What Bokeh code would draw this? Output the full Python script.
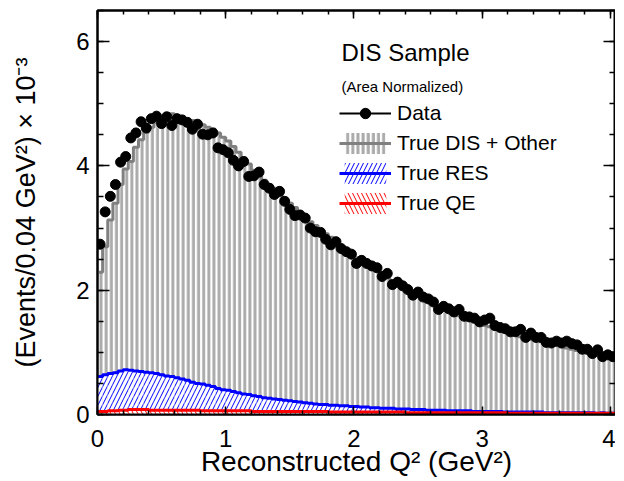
import numpy as np
from bokeh.plotting import figure
from bokeh.models import (Range1d, LinearAxis, SingleIntervalTicker, Legend,
                          LegendItem, Label, CustomJSTickFormatter)
from bokeh.embed import file_html
from bokeh.resources import INLINE

# ---------------- data (values in units of 1e-3 per 0.04 GeV^2 bin) ----------------
BIN_WIDTH = 0.04
X_MAX = 4.04
Y_MAX = 6.5

data_vals = [2.74, 3.26, 3.51, 3.70, 4.06, 4.15, 4.45, 4.53, 4.71, 4.61,
             4.76, 4.80, 4.68, 4.79, 4.65, 4.76, 4.74, 4.70, 4.59, 4.67,
             4.51, 4.50, 4.53, 4.29, 4.26, 4.21, 4.09, 4.00, 4.07, 3.83,
             3.84, 3.90, 3.70, 3.64, 3.54, 3.59, 3.43, 3.30, 3.20, 3.21,
             3.16, 3.00, 2.94, 2.93, 2.82, 2.73, 2.78, 2.67, 2.62, 2.58,
             2.43, 2.48, 2.43, 2.39, 2.36, 2.22, 2.27, 2.09, 2.13, 2.07,
             2.01, 1.92, 1.97, 1.89, 1.86, 1.81, 1.69, 1.74, 1.70, 1.65,
             1.69, 1.58, 1.57, 1.55, 1.49, 1.52, 1.55, 1.43, 1.40, 1.38,
             1.33, 1.33, 1.37, 1.24, 1.31, 1.24, 1.24, 1.16, 1.15, 1.18,
             1.15, 1.18, 1.14, 1.12, 1.05, 1.05, 0.98, 1.04, 0.93, 0.96,
             0.93]

mc_total = [2.29, 2.70, 3.13, 3.40, 3.70, 3.95, 4.07, 4.30, 4.42, 4.54,
            4.62, 4.70, 4.77, 4.82, 4.84, 4.80, 4.78, 4.76, 4.73, 4.70,
            4.66, 4.62, 4.59, 4.53, 4.46, 4.40, 4.31, 4.22, 4.13, 4.03,
            3.93, 3.84, 3.77, 3.70, 3.64, 3.57, 3.48, 3.40, 3.33, 3.25,
            3.17, 3.10, 3.04, 2.97, 2.91, 2.85, 2.79, 2.72, 2.66, 2.60,
            2.52, 2.47, 2.42, 2.37, 2.31, 2.25, 2.20, 2.14, 2.09, 2.04,
            1.99, 1.94, 1.90, 1.86, 1.82, 1.77, 1.73, 1.69, 1.66, 1.62,
            1.59, 1.55, 1.52, 1.49, 1.46, 1.43, 1.41, 1.38, 1.35, 1.33,
            1.30, 1.28, 1.25, 1.23, 1.21, 1.19, 1.17, 1.15, 1.13, 1.11,
            1.09, 1.07, 1.05, 1.03, 1.01, 0.99, 0.97, 0.95, 0.93, 0.92,
            0.90]

res_vals = [0.61, 0.64, 0.66, 0.67, 0.70, 0.72, 0.71, 0.70, 0.69, 0.68,
            0.67, 0.66, 0.64, 0.62, 0.61, 0.59, 0.57, 0.55, 0.52, 0.50,
            0.49, 0.47, 0.45, 0.42, 0.40, 0.39, 0.37, 0.35, 0.33, 0.32,
            0.30, 0.29, 0.27, 0.26, 0.25, 0.24, 0.23, 0.22, 0.21, 0.20,
            0.19, 0.18, 0.17, 0.16, 0.16, 0.15, 0.15, 0.14, 0.14, 0.13,
            0.13, 0.12, 0.12, 0.11, 0.11, 0.10, 0.10, 0.10, 0.09, 0.09,
            0.09, 0.08, 0.08, 0.08, 0.07, 0.07, 0.07, 0.07, 0.06, 0.06,
            0.06, 0.06, 0.06, 0.05, 0.05, 0.05, 0.05, 0.05, 0.05, 0.04,
            0.04, 0.04, 0.04, 0.04, 0.04, 0.04, 0.04, 0.03, 0.03, 0.03,
            0.03, 0.03, 0.03, 0.03, 0.03, 0.03, 0.03, 0.02, 0.03, 0.02,
            0.02]

qe_vals = [0.05, 0.05, 0.06, 0.06, 0.07, 0.07, 0.08, 0.08, 0.08, 0.08,
           0.07, 0.07, 0.07, 0.07, 0.07, 0.07, 0.07, 0.07, 0.07, 0.07,
           0.06, 0.06, 0.06, 0.06, 0.06, 0.06, 0.06, 0.06, 0.06, 0.06,
           0.05, 0.05, 0.05, 0.05, 0.05, 0.05, 0.05, 0.05, 0.05, 0.05,
           0.05, 0.05, 0.05, 0.05, 0.05, 0.04, 0.04, 0.04, 0.04, 0.04,
           0.04, 0.04, 0.04, 0.04, 0.04, 0.04, 0.04, 0.04, 0.04, 0.04,
           0.03, 0.03, 0.03, 0.03, 0.03, 0.03, 0.03, 0.03, 0.03, 0.03,
           0.03, 0.03, 0.03, 0.03, 0.03, 0.03, 0.03, 0.03, 0.03, 0.03,
           0.02, 0.02, 0.02, 0.02, 0.02, 0.02, 0.02, 0.02, 0.02, 0.02,
           0.02, 0.02, 0.02, 0.02, 0.02, 0.02, 0.02, 0.02, 0.02, 0.02,
           0.02]

X_TICK_LABELS = ["0", "1", "2", "3", "4"]
Y_TICK_LABELS = ["0", "2", "4", "6"]

# ---------------- derived bin geometry ----------------
n = len(data_vals)
edges = np.arange(n + 1) * BIN_WIDTH
left = edges[:-1]
right = edges[1:]
centers = 0.5 * (left + right)


def step_y(vals):
    return list(vals) + [vals[-1]]


FONT = "Liberation Sans"

p = figure(frame_width=518, frame_height=404,
           x_range=Range1d(0, X_MAX), y_range=Range1d(0, Y_MAX),
           output_backend="svg", toolbar_location=None,
           min_border_left=97, min_border_right=0, min_border_top=10,
           min_border_bottom=0)
p.grid.visible = False
p.outline_line_color = "black"
p.outline_line_width = 2
p.background_fill_color = "white"
p.border_fill_color = "white"

# True DIS + Other (total MC), vertical-line hatch
gray_q = p.quad(left=left, right=right, bottom=0, top=mc_total,
                fill_alpha=0, line_alpha=0,
                hatch_pattern="vertical_line", hatch_color="#ababab",
                hatch_weight=3, hatch_scale=BIN_WIDTH * 128.3)
gray_s = p.step(x=edges, y=step_y(mc_total), mode="after",
                line_color="#808080", line_width=3)

# True RES
blue_q = p.quad(left=left, right=right, bottom=0, top=res_vals,
                fill_color="white", line_alpha=0,
                hatch_pattern="right_diagonal_line", hatch_color="#0000ff",
                hatch_weight=1, hatch_scale=9)
blue_s = p.step(x=edges, y=step_y(res_vals), mode="after",
                line_color="#0000ff", line_width=3)

# True QE
red_q = p.quad(left=left, right=right, bottom=0, top=qe_vals,
               fill_color="white", line_alpha=0,
               hatch_pattern="left_diagonal_line", hatch_color="#ff0000",
               hatch_weight=1, hatch_scale=9)
red_s = p.step(x=edges, y=step_y(qe_vals), mode="after",
               line_color="#ff0000", line_width=3)

# Data (zero-length error bars -> line shown in legend only)
data_err = p.segment(x0=centers, x1=centers, y0=data_vals, y1=data_vals,
                     line_color="black", line_width=2)
data_pts = p.scatter(x=centers, y=data_vals, size=10, marker="circle",
                     fill_color="black", line_color="black")

# ---------------- axes ----------------
x_ticker = SingleIntervalTicker(interval=1, num_minor_ticks=5)
y_ticker = SingleIntervalTicker(interval=2, num_minor_ticks=4)
x_labels = {i: X_TICK_LABELS[i] for i in range(len(X_TICK_LABELS))}
y_labels = {2 * i: Y_TICK_LABELS[i] for i in range(len(Y_TICK_LABELS))}


def style_axis(ax, major_len, minor_len):
    ax.axis_line_color = "black"
    ax.axis_line_width = 2
    ax.major_tick_in = major_len
    ax.major_tick_out = 0
    ax.minor_tick_in = minor_len
    ax.minor_tick_out = 0
    ax.major_tick_line_color = "black"
    ax.minor_tick_line_color = "black"
    ax.major_tick_line_width = 1.5
    ax.minor_tick_line_width = 1.5


xa = p.xaxis[0]
xa.ticker = x_ticker
xa.major_label_overrides = x_labels
style_axis(xa, 8, 4)
xa.major_label_text_font = FONT
xa.major_label_text_font_size = "24px"
xa.major_label_text_color = "black"
xa.major_label_standoff = 15
xa.axis_label = "Reconstructed Q² (GeV²)"
xa.axis_label_text_font = FONT
xa.axis_label_text_font_size = "28px"
xa.axis_label_text_font_style = "normal"
xa.axis_label_text_color = "black"
xa.axis_label_standoff = -4

ya = p.yaxis[0]
ya.ticker = y_ticker
ya.major_label_overrides = y_labels
style_axis(ya, 12, 6)
ya.major_label_text_font = FONT
ya.major_label_text_font_size = "24px"
ya.major_label_text_color = "black"
ya.major_label_standoff = 8
ya.axis_label = "(Events/0.04 GeV²) × 10⁻³"
ya.axis_label_text_font = FONT
ya.axis_label_text_font_size = "27px"
ya.axis_label_text_font_style = "normal"
ya.axis_label_text_color = "black"
ya.axis_label_standoff = 32

blank = CustomJSTickFormatter(code="return ''")
top_ax = LinearAxis(ticker=x_ticker, formatter=blank,
                    major_label_text_font_size="0px", major_label_standoff=0)
style_axis(top_ax, 8, 4)
p.add_layout(top_ax, "above")
right_ax = LinearAxis(ticker=y_ticker, formatter=blank,
                      major_label_text_font_size="0px", major_label_standoff=0)
style_axis(right_ax, 12, 6)
p.add_layout(right_ax, "right")

# ---------------- legend ----------------
p.add_layout(Label(x=244, y=362, x_units="screen", y_units="screen",
                   text="DIS Sample", text_font=FONT, text_font_size="24px",
                   text_color="black", text_baseline="alphabetic"))
p.add_layout(Label(x=244, y=328, x_units="screen", y_units="screen",
                   text="(Area Normalized)", text_font=FONT,
                   text_font_size="15px", text_color="black",
                   text_baseline="alphabetic"))

legend = Legend(items=[
    LegendItem(label="Data", renderers=[data_err, data_pts]),
    LegendItem(label="True DIS + Other", renderers=[gray_q, gray_s]),
    LegendItem(label="True RES", renderers=[blue_q, blue_s]),
    LegendItem(label="True QE", renderers=[red_q, red_s]),
], location=(242, 198), glyph_width=52, glyph_height=26, label_standoff=6,
    spacing=4, padding=0, margin=0, border_line_color=None,
    background_fill_alpha=0, label_text_font=FONT,
    label_text_font_size="21px", label_text_color="black")
p.add_layout(legend)

open("out.html", "w").write(file_html(p, INLINE))
